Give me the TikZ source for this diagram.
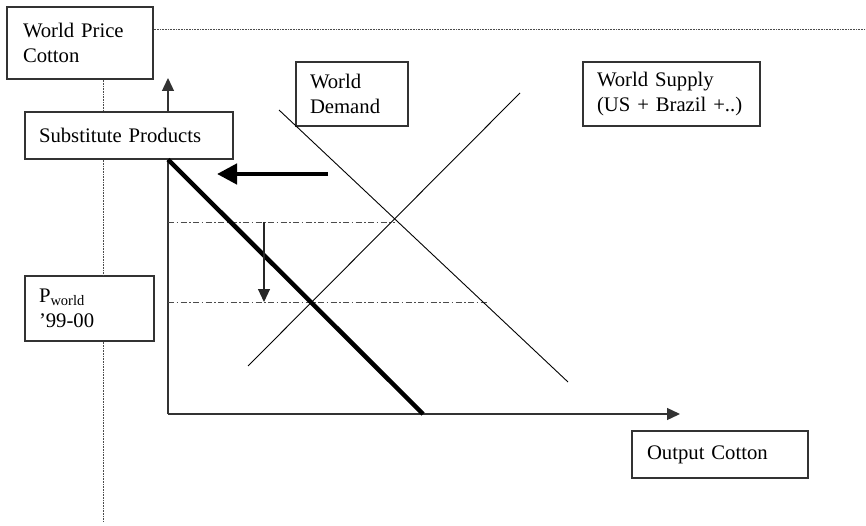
\documentclass[tikz,border=0pt]{standalone}
\usepackage{fontspec}
\setmainfont{Liberation Serif}
\usetikzlibrary{arrows.meta,calc}
\begin{document}
\begin{tikzpicture}[x=1pt,y=-1pt,
  lbl/.style={draw=black!80,line width=1.1pt,fill=white,align=left,
    font=\fontsize{20.7}{25}\selectfont,inner ysep=0pt,anchor=center},
  dotline/.style={line width=0.7pt,black!70,dash pattern=on 0.8pt off 0.8pt},
  axis/.style={line width=1.3pt,black!80},
  curve/.style={line width=0.9pt,black},
  dashdot/.style={line width=0.9pt,black!70,dash pattern=on 6pt off 2.5pt on 1.5pt off 2.5pt},
  tip/.style={-{Triangle[length=13pt,width=12pt]}},
  bigtip/.style={-{Triangle[length=20pt,width=20pt]}}]
\useasboundingbox (0,0) rectangle (866,526);
% coordinates
\coordinate (hend) at (866,29);
\coordinate (vend) at (103,521);
\coordinate (O) at (168,414);
\coordinate (ytip) at (168,78);
\coordinate (xtip) at (680,414);
\coordinate (thickend) at (423,414);
\coordinate (D1) at (279,110);
\coordinate (D2) at (568,382);
\coordinate (S1) at (248,366);
\coordinate (S2) at (520,93);
\coordinate (E) at (395,222);
\coordinate (up0) at (168,222);
\coordinate (lo0) at (168,302);
\coordinate (lo1) at (488,302);
\coordinate (da0) at (264,222);
\coordinate (da1) at (264,302);
\coordinate (ta0) at (328,174);
\coordinate (ta1) at (217,174);
% boxes
\node[lbl,text width=114pt,inner xsep=16pt,minimum height=72pt] (wpc) at (80,43) {World Price\\Cotton};
\node[lbl,text width=180pt,inner xsep=14pt,minimum height=47pt] (sub) at (129,135.5) {Substitute Products};
\node[lbl,text width=84pt,inner xsep=14pt,minimum height=64pt] (wd) at (352,94) {World\\Demand};
\node[lbl,text width=149pt,inner xsep=14pt,minimum height=64pt] (ws) at (671.5,94) {World Supply\\(US + Brazil +..)};
\node[lbl,text width=101pt,inner xsep=14pt,minimum height=65pt] (pw) at (89.5,308.5) {P\textsubscript{world}\\’99-00};
\node[lbl,text width=146pt,inner xsep=15pt,minimum height=47pt] (oc) at (720,454.5) {Output Cotton};
% dotted guide lines
\draw[dotline] (hend -| wpc.east) -- (hend);
\draw[dotline] (wpc.south -| vend) -- (sub.north -| vend);
\draw[dotline] (sub.south -| vend) -- (pw.north -| vend);
\draw[dotline] (pw.south -| vend) -- (vend);
% axes
\draw[axis] (O) -- (sub.south -| O);
\draw[axis,tip] (sub.north -| O) -- (ytip);
\draw[axis,tip] (O) -- (xtip);
% price levels
\draw[dashdot] (up0) -- (E);
\draw[dashdot] (lo0) -- (lo1);
% demand and supply
\draw[curve] (D1) -- (D2);
\draw[curve] (S1) -- (S2);
% substitute demand (thick)
\draw[line width=4.5pt,black] (sub.south -| O) -- (thickend);
% arrows
\draw[line width=1.1pt,black!85,tip] (da0) -- (da1);
\draw[line width=4.5pt,black,bigtip] (ta0) -- (ta1);
\end{tikzpicture}
\end{document}
